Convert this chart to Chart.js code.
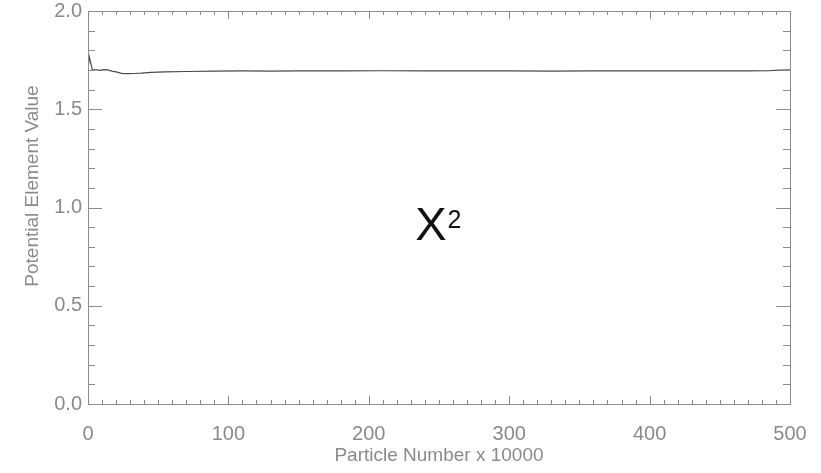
<!DOCTYPE html>
<html>
<head>
<meta charset="utf-8">
<script src="https://cdn.jsdelivr.net/npm/chart.js@4.4.1/dist/chart.umd.min.js"></script>
<style>
  html, body { margin: 0; padding: 0; background: #fff; }
  #wrap { width: 821px; height: 473px; }
</style>
</head>
<body>
<div id="wrap"><canvas id="myChart" width="821" height="473"></canvas></div>
<script>
// particle number (x 10000) and potential element value
var particles = [0, 1, 3, 6, 9, 11, 14, 17, 20, 24, 28, 33, 38, 45, 55, 70, 90, 110, 130, 150,
                 180, 210, 240, 270, 300, 330, 360, 390, 420, 450, 470, 485, 492, 500];
var values = [1.705, 1.765, 1.702, 1.700, 1.698, 1.702, 1.700, 1.694, 1.690, 1.683, 1.681, 1.682,
              1.684, 1.688, 1.690, 1.692, 1.694, 1.695, 1.694, 1.695, 1.695, 1.696, 1.695, 1.695,
              1.695, 1.694, 1.695, 1.695, 1.695, 1.695, 1.695, 1.696, 1.699, 1.700];
var xLabels = [0, 100, 200, 300, 400, 500];
var yLabels = [0.0, 0.5, 1.0, 1.5, 2.0];

var axisFont = "'Liberation Sans Narrow', 'Liberation Sans', sans-serif";

function isLabelled(list, v) {
    return list.some(function (l) { return Math.abs(l - v) < 1e-6; });
}

// no extra room for labels hanging over the ends of the axes
function noOverhang(s) {
    s.paddingTop = 0; s.paddingBottom = 0; s.paddingLeft = 0; s.paddingRight = 0;
}

// box round the plot with ticks pointing inward on all four sides
var frameTicks = {
    id: 'frameTicks',
    afterDraw: function (chart) {
        var ctx = chart.ctx, a = chart.chartArea;
        var x = chart.scales.x, y = chart.scales.y;
        var o = chart.options.plugins.frameTicks;
        ctx.save();
        ctx.strokeStyle = '#8c8c8c';
        ctx.lineWidth = 1;
        ctx.strokeRect(Math.round(a.left) + 0.5, Math.round(a.top) + 0.5,
            Math.round(a.right - a.left), Math.round(a.bottom - a.top));
        ctx.beginPath();
        x.ticks.forEach(function (t) {
            var px = Math.round(x.getPixelForValue(t.value)) + 0.5;
            var len = isLabelled(xLabels, t.value) ? 8 : 4;
            ctx.moveTo(px, a.bottom); ctx.lineTo(px, a.bottom - len);
            ctx.moveTo(px, a.top); ctx.lineTo(px, a.top + len);
        });
        y.ticks.forEach(function (t) {
            var py = Math.round(y.getPixelForValue(t.value)) + 0.5;
            var len = isLabelled(yLabels, t.value) ? 14 : 7;
            ctx.moveTo(a.left, py); ctx.lineTo(a.left + len, py);
            ctx.moveTo(a.right, py); ctx.lineTo(a.right - len, py);
        });
        ctx.stroke();

        // y axis title, sitting a little above the middle as in the original
        ctx.fillStyle = '#8a8a8a';
        ctx.font = "19px " + axisFont;
        ctx.textAlign = 'center';
        ctx.textBaseline = 'middle';
        ctx.translate(33, o.yTitleY);
        ctx.rotate(-Math.PI / 2);
        ctx.fillText('Potential Element Value', 0, 0);
        ctx.setTransform(1, 0, 0, 1, 0, 0);

        // X^2 annotation in the middle of the plot
        var tx = x.getPixelForValue(o.labelX), ty = y.getPixelForValue(o.labelY);
        ctx.fillStyle = '#111';
        ctx.textBaseline = 'alphabetic';
        ctx.textAlign = 'left';
        ctx.font = "47px 'Liberation Sans Narrow', 'Liberation Sans', sans-serif";
        ctx.fillText('X', tx, ty + 13);
        var w = ctx.measureText('X').width;
        ctx.font = "25px 'Liberation Sans', sans-serif";
        ctx.fillText('2', tx + w + 1, ty + 1);
        ctx.restore();
    }
};

var ctx = document.getElementById('myChart').getContext('2d');
var chart = new Chart(ctx, {
    type: 'line',
    data: {
        datasets: [{
            data: particles.map(function (p, i) { return { x: p, y: values[i] }; }),
            borderColor: '#4a4a4a',
            borderWidth: 1.2,
            pointRadius: 0,
            tension: 0,
            fill: false
        }]
    },
    options: {
        responsive: false,
        animation: false,
        layout: { padding: { left: 0, right: 31, top: 11, bottom: 0 } },
        plugins: {
            legend: { display: false },
            tooltip: { enabled: false },
            frameTicks: { labelX: 233, labelY: 0.9, yTitleY: 186 }
        },
        scales: {
            x: {
                type: 'linear',
                min: 0,
                max: 500,
                grid: { display: false, drawTicks: false },
                border: { display: false },
                afterFit: function (s) { s.height = 69; noOverhang(s); },
                ticks: {
                    stepSize: 10,
                    autoSkip: false,
                    maxRotation: 0,
                    padding: 18,
                    color: '#8a8a8a',
                    font: { family: axisFont, size: 20 },
                    callback: function (v) { return isLabelled(xLabels, v) ? String(v) : ''; }
                },
                title: {
                    display: true,
                    text: 'Particle Number x 10000',
                    color: '#8a8a8a',
                    font: { family: axisFont, size: 19 },
                    padding: { top: 0, bottom: 6 }
                }
            },
            y: {
                min: 0,
                max: 2,
                grid: { display: false, drawTicks: false },
                border: { display: false },
                afterFit: function (s) { s.width = 88; noOverhang(s); },
                ticks: {
                    stepSize: 0.1,
                    autoSkip: false,
                    padding: 6,
                    color: '#8a8a8a',
                    font: { family: axisFont, size: 20 },
                    callback: function (v) { return isLabelled(yLabels, v) ? v.toFixed(1) : ''; }
                }
            }
        }
    },
    plugins: [frameTicks]
});
</script>
</body>
</html>
